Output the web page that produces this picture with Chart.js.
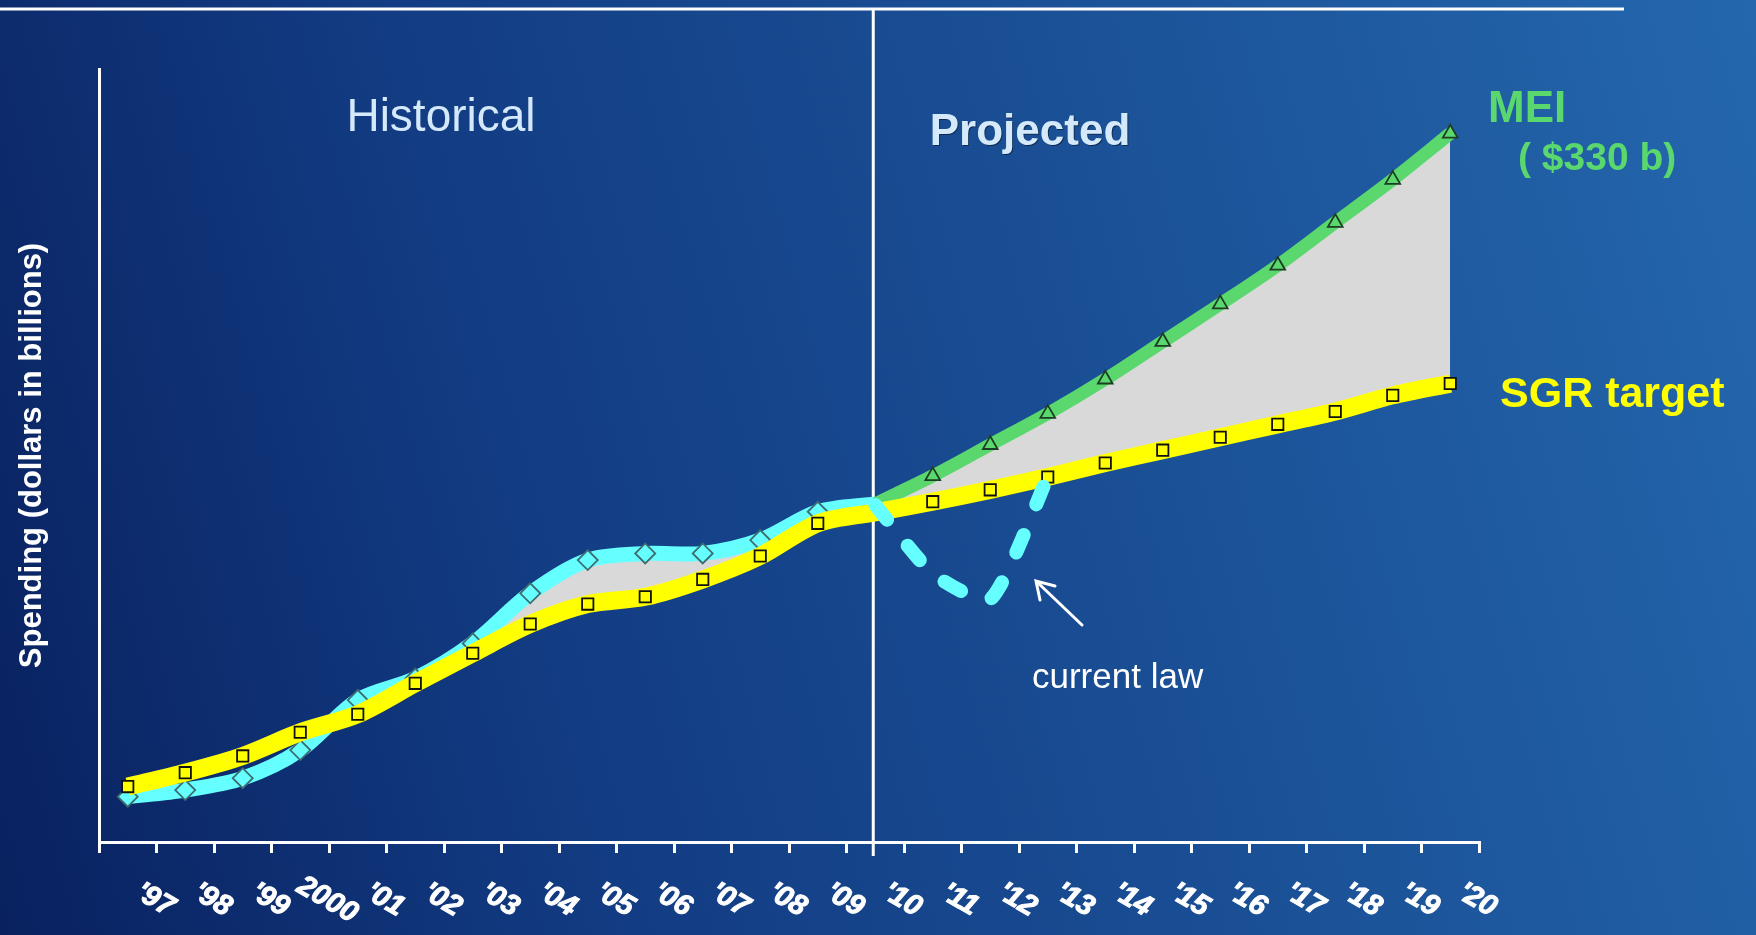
<!DOCTYPE html>
<html>
<head>
<meta charset="utf-8">
<script src="https://cdn.jsdelivr.net/npm/chart.js@4.4.1/dist/chart.umd.min.js"></script>
<style>
  html, body { margin: 0; padding: 0; }
  body {
    width: 1756px;
    height: 935px;
    overflow: hidden;
    background: linear-gradient(75deg, #09215f 0%, #123b82 30%, #1a4f95 62%, #2467ad 100%);
  }
  canvas { display: block; }
</style>
</head>
<body>
<canvas id="spendingChart" width="1756" height="935"></canvas>
<script>
// Physician spending: actual vs SGR target vs MEI (dollars in billions)
const years = ["'97", "'98", "'99", "2000", "'01", "'02", "'03", "'04", "'05", "'06", "'07", "'08", "'09",
  "'10", "'11", "'12", "'13", "'14", "'15", "'16", "'17", "'18", "'19", "'20"];

const actualSpending = [21.1, 24.2, 29.7, 42.8, 66.1, 76.1, 92.5, 115.8, 131.3, 134.4, 134.4, 140.6, 153.8,
  157.5, null, null, null, null, null, null, null, null, null, null];

const sgrTarget = [25.8, 32.3, 40.1, 51.1, 59.5, 73.9, 87.9, 101.5, 110.8, 114.2, 122.3, 133.2, 148.4,
  153.5, 158.5, 164, 170, 176.5, 182.5, 188.5, 194.5, 200.5, 208, 213.5];

const meiSpending = [null, null, null, null, null, null, null, null, null, null, null, null, null,
  157.5, 170.5, 185, 199.5, 215.5, 233, 250.5, 268.5, 288.5, 308.5, 330];

const currentLaw = [null, null, null, null, null, null, null, null, null, null, null, null, null,
  157, 125, 113, 170, null, null, null, null, null, null, null];

const FONT = "'Liberation Sans', Arial, sans-serif";
const GRAY = "#d9d9d9";
const CYAN = "#66ffff";
const YELLOW = "#ffff00";
const GREEN = "#5ad86e";

// hide the marker where historical meets projected ('10)
const markerSize = (size) => (ctx) => (ctx.dataIndex === 13 ? 0 : size);

// text, divider line, arrow and tilted year labels
const slideDecor = {
  id: "slideDecor",
  beforeDatasetsDraw(chart) {
    const { ctx } = chart;
    const x = chart.scales.x;
    const xDiv = x.getPixelForValue(13) - 2;
    ctx.save();
    ctx.strokeStyle = "#ffffff";
    ctx.lineWidth = 3;
    ctx.beginPath();
    ctx.moveTo(0, 9);
    ctx.lineTo(1624, 9);
    ctx.stroke();
    ctx.beginPath();
    ctx.moveTo(xDiv, 9);
    ctx.lineTo(xDiv, 856);
    ctx.stroke();
    ctx.restore();
  },
  afterDraw(chart) {
    const { ctx } = chart;
    const x = chart.scales.x;
    ctx.save();

    // year labels, tilted clockwise
    ctx.font = "italic bold 29px " + FONT;
    ctx.fillStyle = "#ffffff";
    ctx.strokeStyle = "#ffffff";
    ctx.lineWidth = 1;
    ctx.textAlign = "center";
    ctx.textBaseline = "middle";
    years.forEach((label, i) => {
      ctx.save();
      ctx.translate(x.getPixelForTick(i) + 27, 900);
      ctx.rotate(Math.PI / 6);
      ctx.fillText(label, 0, 0);
      ctx.strokeText(label, 0, 0);
      ctx.restore();
    });

    ctx.textBaseline = "alphabetic";
    ctx.textAlign = "center";
    ctx.fillStyle = "#d4e9fa";
    ctx.font = "46px " + FONT;
    ctx.fillText("Historical", 441, 131);

    ctx.save();
    ctx.shadowColor = "rgba(0,0,0,0.45)";
    ctx.shadowOffsetX = 1;
    ctx.shadowOffsetY = 1;
    ctx.font = "bold 44px " + FONT;
    ctx.fillText("Projected", 1030, 145);
    ctx.restore();

    ctx.textAlign = "left";
    ctx.fillStyle = GREEN;
    ctx.font = "bold 44px " + FONT;
    ctx.fillText("MEI", 1488, 122);
    ctx.font = "bold 39px " + FONT;
    ctx.fillText("( $330 b)", 1518, 170);

    ctx.fillStyle = YELLOW;
    ctx.font = "bold 43px " + FONT;
    ctx.fillText("SGR target", 1500, 407);

    ctx.fillStyle = "#ffffff";
    ctx.font = "35px " + FONT;
    ctx.fillText("current law", 1032, 688);

    // arrow pointing at the dip
    ctx.strokeStyle = "#ffffff";
    ctx.lineWidth = 3;
    ctx.lineCap = "round";
    ctx.beginPath();
    ctx.moveTo(1082, 625);
    ctx.lineTo(1036, 581);
    ctx.moveTo(1055, 586);
    ctx.lineTo(1036, 581);
    ctx.lineTo(1040, 600);
    ctx.stroke();

    ctx.restore();
  }
};

const ctx = document.getElementById("spendingChart").getContext("2d");
const spendingChart = new Chart(ctx, {
  type: "line",
  data: {
    labels: years,
    datasets: [
      {
        label: "Current law",
        data: currentLaw,
        borderColor: CYAN,
        borderWidth: 14,
        borderDash: [19, 33],
        borderCapStyle: "round",
        tension: 0.2,
        pointRadius: 0,
        fill: false,
      },
      {
        label: "SGR target",
        data: sgrTarget,
        borderColor: YELLOW,
        borderWidth: 18,
        tension: 0.3,
        pointStyle: "rect",
        pointRadius: markerSize(8),
        pointBackgroundColor: YELLOW,
        pointBorderColor: "#111111",
        pointBorderWidth: 1.8,
        fill: false,
      },
      {
        label: "MEI",
        data: meiSpending,
        borderColor: GREEN,
        borderWidth: 13,
        tension: 0.3,
        pointStyle: "triangle",
        pointRadius: markerSize(8.5),
        pointBackgroundColor: GREEN,
        pointBorderColor: "#1e3d25",
        pointBorderWidth: 1.8,
        fill: { target: 1, above: GRAY, below: "rgba(0,0,0,0)" },
      },
      {
        label: "Actual spending",
        data: actualSpending,
        borderColor: CYAN,
        borderWidth: 15,
        tension: 0.3,
        pointStyle: "rectRot",
        pointRadius: markerSize(10),
        pointBackgroundColor: CYAN,
        pointBorderColor: "#3d6b70",
        pointBorderWidth: 1.8,
        fill: { target: 1, above: GRAY, below: "rgba(0,0,0,0)" },
      },
    ],
  },
  options: {
    responsive: false,
    animation: false,
    devicePixelRatio: 1,
    layout: { padding: { left: 0, right: 277, top: 69, bottom: 0 } },
    plugins: {
      legend: { display: false },
      tooltip: { enabled: false },
      filler: { drawTime: "beforeDatasetsDraw" },
    },
    scales: {
      x: {
        offset: true,
        grid: {
          display: true,
          drawOnChartArea: false,
          drawTicks: true,
          tickLength: 11,
          offset: true,
          color: "#ffffff",
          lineWidth: 3,
        },
        border: { display: true, color: "#ffffff", width: 3 },
        ticks: { display: false },
        afterFit: (scale) => { scale.height = 93; },
      },
      y: {
        min: 0,
        max: 360,
        grid: { display: false },
        border: { display: true, color: "#ffffff", width: 3 },
        ticks: { display: false },
        title: {
          display: true,
          text: "Spending (dollars in billions)",
          color: "#ffffff",
          font: { family: FONT, weight: "bold", size: 31 },
          padding: { top: 14, bottom: 0 },
        },
        afterFit: (scale) => { scale.width = 99; },
      },
    },
  },
  plugins: [slideDecor],
});
</script>
</body>
</html>
